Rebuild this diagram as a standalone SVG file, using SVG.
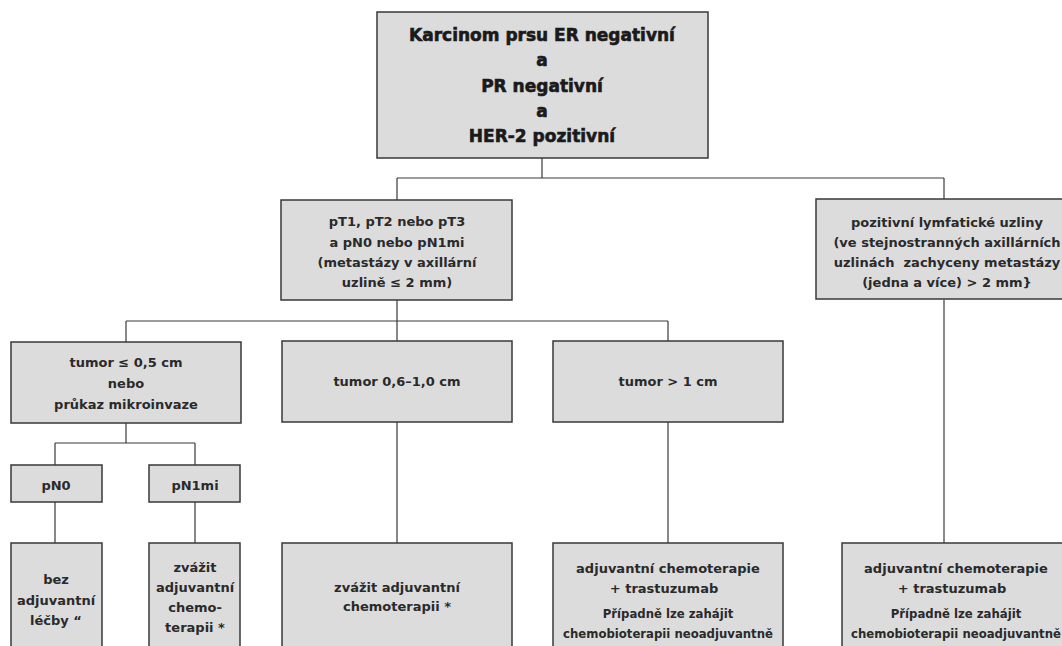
<svg xmlns="http://www.w3.org/2000/svg" width="1062" height="646" viewBox="0 0 1062 646">
<style>
.box{fill:#dcdcdd;stroke:#383838;stroke-width:1.5}
.t{font-family:"DejaVu Sans","Liberation Sans",sans-serif;font-weight:bold;font-size:13px;fill:#2a2a2a;text-anchor:middle}
.h{font-size:17px;fill:#1a1a1a;stroke:#1a1a1a;stroke-width:0.6}
.s{font-size:11.7px}
.c{fill:none;stroke:#3a3a3a;stroke-width:1.2}
</style>
<rect width="1062" height="646" fill="#ffffff"/>
<g id="connectors">
<path class="c" d="M542 158V178M397 178H944M397 178V200M944 178V199"/>
<path class="c" d="M397 300V341M126 321H668M126 321V342M668 321V341"/>
<path class="c" d="M126 423V443M55 443H195M55 443V465M195 443V465"/>
<path class="c" d="M55 502V543M195 502V543M397 422V543M668 422V543M944 300V543"/>
</g>
<g id="n-root">
<rect class="box" x="377" y="12" width="331" height="146"/>
<text class="t h" x="542" y="41">Karcinom prsu ER negativní</text>
<text class="t h" x="542" y="66">a</text>
<text class="t h" x="542" y="92">PR negativní</text>
<text class="t h" x="542" y="117">a</text>
<text class="t h" x="542" y="142">HER-2 pozitivní</text>
</g>
<g id="n-pt">
<rect class="box" x="281" y="200" width="231" height="100"/>
<text class="t" x="397" y="226">pT1, pT2 nebo pT3</text>
<text class="t" x="397" y="247">a pN0 nebo pN1mi</text>
<text class="t" x="397" y="267">(metastázy v axillární</text>
<text class="t" x="397" y="287">uzlině ≤ 2 mm)</text>
</g>
<g id="n-pos">
<rect class="box" x="816" y="199" width="260" height="100"/>
<text class="t" x="947" y="227">pozitivní lymfatické uzliny</text>
<text class="t" x="947" y="247">(ve stejnostranných axillárních</text>
<text class="t" x="947" y="267" style="white-space:pre">uzlinách  zachyceny metastázy</text>
<text class="t" x="947" y="287">(jedna a více) &gt; 2 mm}</text>
</g>
<g id="n-t05">
<rect class="box" x="11" y="342" width="230" height="81"/>
<text class="t" x="126" y="367">tumor ≤ 0,5 cm</text>
<text class="t" x="126" y="388">nebo</text>
<text class="t" x="126" y="409">průkaz mikroinvaze</text>
</g>
<g id="n-t06">
<rect class="box" x="282" y="341" width="230" height="81"/>
<text class="t" x="397" y="386">tumor 0,6–1,0 cm</text>
</g>
<g id="n-t1">
<rect class="box" x="553" y="341" width="230" height="81"/>
<text class="t" x="668" y="386">tumor &gt; 1 cm</text>
</g>
<g id="n-pn0">
<rect class="box" x="11" y="465" width="91" height="37"/>
<text class="t" x="56" y="490">pN0</text>
</g>
<g id="n-pn1mi">
<rect class="box" x="149" y="465" width="91" height="37"/>
<text class="t" x="195" y="490">pN1mi</text>
</g>
<g id="n-bez">
<rect class="box" x="11" y="543" width="91" height="110"/>
<text class="t" x="56" y="584">bez</text>
<text class="t" x="56" y="605">adjuvantní</text>
<text class="t" x="56" y="625">léčby “</text>
</g>
<g id="n-zvazit1">
<rect class="box" x="149" y="543" width="91" height="110"/>
<text class="t" x="195" y="572">zvážit</text>
<text class="t" x="195" y="592">adjuvantní</text>
<text class="t" x="195" y="612">chemo-</text>
<text class="t" x="195" y="632">terapii *</text>
</g>
<g id="n-zvazit2">
<rect class="box" x="282" y="543" width="230" height="110"/>
<text class="t" x="397" y="592">zvážit adjuvantní</text>
<text class="t" x="397" y="611">chemoterapii *</text>
</g>
<g id="n-chemo1">
<rect class="box" x="553" y="543" width="230" height="110"/>
<text class="t" x="668" y="573">adjuvantní chemoterapie</text>
<text class="t" x="664" y="593">+ trastuzumab</text>
<text class="t s" x="668" y="618">Případně lze zahájit</text>
<text class="t s" x="668" y="638">chemobioterapii neoadjuvantně</text>
</g>
<g id="n-chemo2">
<rect class="box" x="842" y="543" width="240" height="110"/>
<text class="t" x="956" y="573">adjuvantní chemoterapie</text>
<text class="t" x="952" y="593">+ trastuzumab</text>
<text class="t s" x="956" y="618">Případně lze zahájit</text>
<text class="t s" x="956" y="638">chemobioterapii neoadjuvantně</text>
</g>
</svg>
